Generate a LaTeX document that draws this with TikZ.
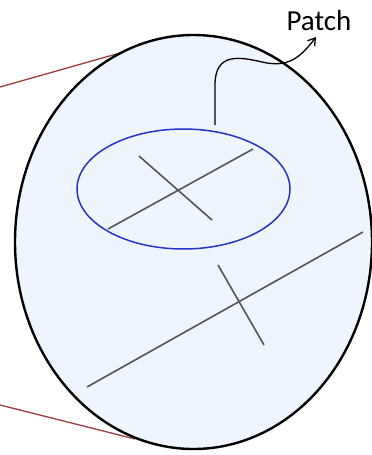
\documentclass[tikz,border=0pt]{standalone}
\usepackage{fontspec}
\setmainfont{Carlito}
\usetikzlibrary{arrows.meta}
\definecolor{fillblue}{HTML}{EEF5FD}
\definecolor{patchblue}{HTML}{2436C8}
\definecolor{crossgray}{HTML}{555555}
\definecolor{darkred}{HTML}{A03C3C}
\tikzset{
  bigell/.style={draw=black, line width=2.4pt, fill=fillblue},
  patchell/.style={draw=patchblue, line width=1.5pt},
  crossline/.style={draw=crossgray, line width=1.6pt},
  redline/.style={draw=darkred, line width=1.3pt},
  pointer/.style={draw=black, line width=1.3pt, -{Straight Barb[length=7pt,width=9pt]}},
  lbl/.style={font=\fontsize{29}{34}\selectfont, inner sep=0pt}
}
\begin{document}
\begin{tikzpicture}[x=1pt,y=-1pt]
\useasboundingbox (0,0) rectangle (372,455);
% named points
\coordinate (rt0) at (0,87);
\coordinate (rt1) at (127,51);
\coordinate (rb0) at (0,405);
\coordinate (rb1) at (135,439);
\coordinate (c) at (193.5,242);
\coordinate (pc) at (183.5,189);
\coordinate (a1) at (108,229);
\coordinate (a2) at (253,149);
\coordinate (b1) at (139,156);
\coordinate (b2) at (212,220);
\coordinate (d1) at (87,387);
\coordinate (d2) at (363,232);
\coordinate (e1) at (218,265);
\coordinate (e2) at (264,345);
\coordinate (s) at (215,125);
\coordinate (tip) at (316,37);
% red lines
\draw[redline] (rt0) -- (rt1);
\draw[redline] (rb0) -- (rb1);
% big ellipse
\draw[bigell] (c) ellipse [x radius=178.5pt, y radius=207pt];
% patch ellipse
\draw[patchell] (pc) ellipse [x radius=106.5pt, y radius=60pt];
% crosses
\draw[crossline] (a1) -- (a2);
\draw[crossline] (b1) -- (b2);
\draw[crossline] (d1) -- (d2);
\draw[crossline] (e1) -- (e2);
% pointer
\draw[pointer] (s) -- (215,85) .. controls (215,52) and (240,57) .. (262,62) .. controls (288,68) and (300,58) .. (tip);
% label
\node[lbl, anchor=base] (patch) at (319,30) {Patch};
\end{tikzpicture}
\end{document}
